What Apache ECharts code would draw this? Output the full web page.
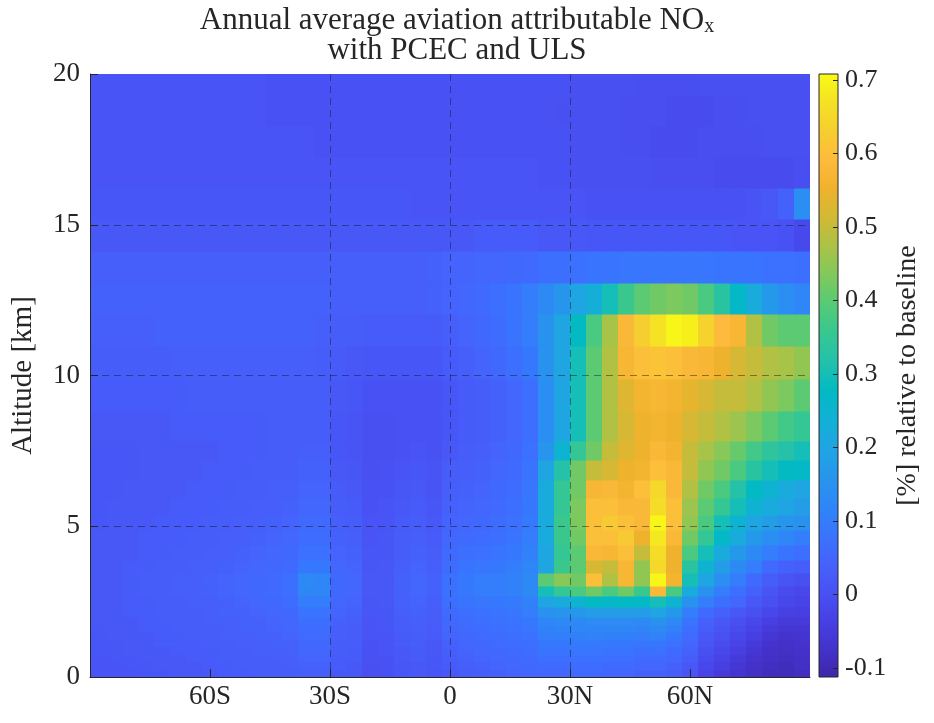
<!DOCTYPE html>
<html><head><meta charset="utf-8">
<script src="https://cdn.jsdelivr.net/npm/echarts@6/dist/echarts.min.js"></script>
<style>html,body{margin:0;padding:0;background:#fff}#c{width:934px;height:723px}</style>
</head><body><div id="c"></div>
<script>
// latitude cell centres (4 degree cells)
const latCenters = [-88,-84,-80,-76,-72,-68,-64,-60,-56,-52,-48,-44,-40,-36,-32,-28,-24,-20,-16,-12,-8,-4,0,4,8,12,16,20,
                    24,28,32,36,40,44,48,52,56,60,64,68,72,76,80,84,88];
const latHalfWidth = 2;
// altitude layer edges [km]
const altEdges = [0,0.25,0.5,0.75,1,1.25,1.5,1.75,2,2.35,2.7,3.05,3.45,3.9,4.4,4.9,5.4,5.95,6.55,7.2,7.85,8.85,9.9,11,12.05,13.1,14.15,15.2,16.25,17.25,18.3,19.3,20.3];

// NOx change [%], rows = altitude layers (bottom to top); latitudes 88S..20N
const noxSouth = [
 [0.01,0.01,0.01,0.015,0.015,0.02,0.02,0.02, 0.025,0.025,0.03,0.03,0.03, 0.035,0.035, 0.02,0.02, 0.0,0.005, 0.015,0.02,0.01, 0.02,0.03,0.035,0.04,0.045,0.05],
 [0.01,0.01,0.015,0.015,0.02,0.02,0.02,0.025, 0.025,0.03,0.03,0.03,0.035, 0.04,0.04, 0.025,0.02, 0.0,0.005, 0.015,0.02,0.015, 0.025,0.035,0.04,0.045,0.05,0.055],
 [0.01,0.015,0.015,0.02,0.02,0.02,0.025,0.025, 0.03,0.03,0.03,0.035,0.035, 0.045,0.045, 0.025,0.025, 0.005,0.005, 0.02,0.025,0.015, 0.03,0.04,0.045,0.05,0.055,0.06],
 [0.015,0.015,0.02,0.02,0.02,0.025,0.025,0.025, 0.03,0.03,0.035,0.035,0.04, 0.05,0.05, 0.03,0.025, 0.005,0.01, 0.02,0.025,0.02, 0.035,0.045,0.05,0.055,0.06,0.065],
 [0.015,0.015,0.02,0.02,0.025,0.025,0.025,0.03, 0.03,0.035,0.035,0.04,0.04, 0.055,0.055, 0.03,0.03, 0.005,0.01, 0.025,0.03,0.02, 0.04,0.05,0.055,0.06,0.065,0.07],
 [0.015,0.02,0.02,0.02,0.025,0.025,0.03,0.03, 0.035,0.035,0.04,0.04,0.045, 0.06,0.06, 0.035,0.03, 0.01,0.01, 0.025,0.03,0.025, 0.045,0.055,0.06,0.065,0.07,0.075],
 [0.015,0.02,0.02,0.025,0.025,0.03,0.03,0.03, 0.035,0.04,0.04,0.045,0.05, 0.065,0.065, 0.035,0.03, 0.01,0.015, 0.03,0.035,0.025, 0.05,0.06,0.065,0.07,0.075,0.085],
 [0.02,0.02,0.02,0.025,0.025,0.03,0.03,0.035, 0.035,0.04,0.04,0.045,0.05, 0.07,0.07, 0.04,0.035, 0.01,0.015, 0.03,0.035,0.03, 0.055,0.065,0.07,0.075,0.08,0.09],
 [0.02,0.02,0.025,0.025,0.03,0.03,0.03,0.035, 0.04,0.04,0.045,0.05,0.055, 0.08,0.08, 0.045,0.04, 0.015,0.015, 0.035,0.04,0.03, 0.06,0.07,0.075,0.08,0.085,0.1],
 [0.02,0.02,0.025,0.025,0.03,0.03,0.035,0.035, 0.04,0.045,0.05,0.055,0.065, 0.1,0.1, 0.05,0.045, 0.015,0.02, 0.04,0.045,0.035, 0.07,0.08,0.085,0.09,0.095,0.11],
 [0.02,0.02,0.025,0.03,0.03,0.035,0.035,0.04, 0.045,0.05,0.055,0.06,0.07, 0.12,0.12, 0.055,0.05, 0.02,0.02, 0.04,0.05,0.04, 0.075,0.09,0.1,0.1,0.11,0.13],
 [0.02,0.02,0.025,0.03,0.03,0.035,0.035,0.04, 0.045,0.05,0.055,0.06,0.07, 0.13,0.12, 0.055,0.05, 0.02,0.02, 0.04,0.05,0.04, 0.075,0.09,0.1,0.1,0.11,0.13],
 [0.02,0.02,0.025,0.025,0.03,0.03,0.035,0.035, 0.04,0.045,0.05,0.055,0.06, 0.09,0.09, 0.05,0.045, 0.015,0.02, 0.035,0.045,0.035, 0.065,0.08,0.085,0.09,0.1,0.12],
 [0.02,0.02,0.02,0.025,0.025,0.03,0.03,0.035, 0.035,0.04,0.045,0.05,0.055, 0.075,0.075, 0.045,0.04, 0.015,0.015, 0.03,0.04,0.03, 0.06,0.07,0.075,0.08,0.09,0.11],
 [0.02,0.02,0.02,0.025,0.025,0.025,0.03,0.03, 0.035,0.035,0.04,0.045,0.05, 0.065,0.065, 0.04,0.035, 0.01,0.015, 0.03,0.035,0.025, 0.05,0.06,0.065,0.07,0.08,0.1],
 [0.015,0.02,0.02,0.02,0.025,0.025,0.025,0.03, 0.03,0.035,0.035,0.04,0.045, 0.06,0.06, 0.035,0.03, 0.01,0.01, 0.025,0.03,0.02, 0.045,0.05,0.055,0.065,0.075,0.095],
 [0.015,0.02,0.02,0.02,0.02,0.025,0.025,0.025, 0.03,0.03,0.035,0.035,0.04, 0.05,0.05, 0.03,0.025, 0.005,0.01, 0.02,0.025,0.015, 0.04,0.045,0.05,0.06,0.07,0.09],
 [0.015,0.015,0.02,0.02,0.02,0.02,0.025,0.025, 0.025,0.03,0.03,0.035,0.035, 0.045,0.045, 0.025,0.02, 0.005,0.005, 0.015,0.02,0.01, 0.035,0.04,0.045,0.055,0.065,0.085],
 [0.015,0.015,0.015,0.02,0.02,0.02,0.02,0.025, 0.025,0.025,0.03,0.03,0.03, 0.04,0.04, 0.02,0.015, 0.0,0.005, 0.01,0.015,0.01, 0.03,0.035,0.04,0.05,0.06,0.08],
 [0.015,0.015,0.015,0.02,0.02,0.02,0.02,0.02, 0.025,0.025,0.025,0.03,0.03, 0.035,0.035, 0.015,0.01, 0.0,0.0, 0.005,0.01,0.005, 0.02,0.03,0.035,0.045,0.055,0.075],
 [0.02,0.02,0.02,0.02,0.02,0.025,0.025,0.025, 0.025,0.025,0.025,0.03,0.03, 0.03,0.03, 0.015,0.01, 0.0,0.0, 0.005,0.005,0.005, 0.015,0.025,0.03,0.04,0.05,0.07],
 [0.025,0.025,0.025,0.025,0.025,0.025,0.03,0.03, 0.03,0.03,0.03,0.03,0.03, 0.03,0.03, 0.02,0.015, 0.005,0.005, 0.005,0.005,0.005, 0.015,0.025,0.03,0.04,0.05,0.07],
 [0.03,0.03,0.03,0.03,0.03,0.035,0.035,0.035, 0.035,0.035,0.035,0.035,0.035, 0.035,0.03, 0.025,0.02, 0.015,0.015, 0.015,0.015,0.015, 0.025,0.035,0.045,0.055,0.07,0.09],
 [0.035,0.035,0.035,0.035,0.04,0.04,0.04,0.04, 0.04,0.04,0.04,0.04,0.04, 0.04,0.035, 0.03,0.03, 0.025,0.025, 0.025,0.025,0.025, 0.035,0.045,0.055,0.065,0.08,0.1],
 [0.04,0.04,0.04,0.04,0.04,0.04,0.04,0.04, 0.04,0.04,0.04,0.04,0.04, 0.04,0.04, 0.035,0.035, 0.035,0.035, 0.035,0.035,0.04, 0.045,0.05,0.06,0.07,0.08,0.1],
 [0.035,0.035,0.035,0.035,0.035,0.035,0.035,0.035, 0.035,0.035,0.035,0.035,0.035, 0.035,0.035, 0.035,0.035, 0.035,0.035, 0.035,0.035,0.04, 0.045,0.045,0.05,0.05,0.055,0.06],
 [0.02,0.02,0.02,0.02,0.02,0.02,0.02,0.02, 0.02,0.02,0.02,0.02,0.02, 0.02,0.02, 0.02,0.02, 0.02,0.02, 0.02,0.02,0.02, 0.02,0.02,0.025,0.025,0.025,0.025],
 [0.015,0.015,0.015,0.015,0.015,0.015,0.015,0.015, 0.015,0.015,0.015,0.015,0.015, 0.015,0.015, 0.015,0.015, 0.015,0.015, 0.015,0.01,0.01, 0.01,0.01,0.01,0.01,0.01,0.01],
 [0.01,0.01,0.01,0.01,0.01,0.01,0.01,0.01, 0.01,0.01,0.01,0.01,0.01, 0.01,0.01, 0.01,0.01, 0.01,0.01, 0.01,0.01,0.01, 0.01,0.01,0.01,0.01,0.01,0.01],
 [0.01,0.01,0.01,0.01,0.01,0.01,0.01,0.01, 0.01,0.01,0.01,0.01,0.01, 0.01,0.005, 0.005,0.005, 0.005,0.005, 0.005,0.005,0.005, 0.005,0.005,0.005,0.005,0.005,0.005],
 [0.01,0.01,0.01,0.01,0.01,0.01,0.01,0.01, 0.01,0.01,0.01,0.005,0.005, 0.005,0.005, 0.005,0.005, 0.005,0.005, 0.005,0.005,0.005, 0.005,0.005,0.005,0.005,0.005,0.005],
 [0.01,0.01,0.01,0.01,0.01,0.01,0.01,0.01, 0.01,0.01,0.01,0.005,0.005, 0.005,0.005, 0.005,0.005, 0.005,0.005, 0.005,0.005,0.005, 0.005,0.005,0.005,0.005,0.005,0.005]
];
// latitudes 24N..88N
const noxNorth = [
 [0.05,0.05,0.06,0.06,0.05,0.05,0.04,0.04,0.03,0.01,-0.03,-0.05,-0.065,-0.08,-0.09,-0.09,-0.085],
 [0.06,0.06,0.065,0.065,0.06,0.06,0.05,0.05,0.04,0.02,-0.02,-0.04,-0.06,-0.075,-0.085,-0.09,-0.08],
 [0.07,0.07,0.075,0.075,0.07,0.07,0.06,0.06,0.05,0.03,-0.01,-0.03,-0.05,-0.07,-0.08,-0.085,-0.08],
 [0.08,0.08,0.085,0.085,0.08,0.08,0.07,0.075,0.06,0.04,0.0,-0.02,-0.04,-0.06,-0.075,-0.08,-0.075],
 [0.09,0.09,0.095,0.095,0.09,0.09,0.085,0.09,0.075,0.05,0.01,-0.01,-0.03,-0.05,-0.07,-0.075,-0.07],
 [0.1,0.105,0.105,0.11,0.105,0.105,0.1,0.11,0.09,0.06,0.02,0.0,-0.02,-0.04,-0.06,-0.07,-0.065],
 [0.11,0.115,0.12,0.12,0.12,0.12,0.115,0.13,0.11,0.07,0.03,0.01,-0.01,-0.03,-0.05,-0.06,-0.06],
 [0.12,0.13,0.13,0.135,0.135,0.135,0.13,0.15,0.13,0.08,0.04,0.02,0.0,-0.02,-0.04,-0.05,-0.05],
 [0.15,0.16,0.17,0.18,0.18,0.18,0.18,0.2,0.17,0.1,0.06,0.04,0.02,0.0,-0.02,-0.035,-0.04],
 [0.2,0.22,0.25,0.28,0.27,0.28,0.27,0.3,0.25,0.15,0.1,0.07,0.05,0.02,0.0,-0.02,-0.03],
 [0.3,0.35,0.38,0.42,0.38,0.42,0.36,0.58,0.38,0.22,0.15,0.1,0.07,0.04,0.01,-0.01,-0.02],
 [0.4,0.44,0.42,0.6,0.48,0.57,0.45,0.7,0.56,0.3,0.2,0.14,0.1,0.06,0.03,0.01,0.0],
 [0.2,0.36,0.4,0.52,0.5,0.57,0.45,0.65,0.55,0.33,0.25,0.18,0.13,0.1,0.06,0.04,0.03],
 [0.2,0.35,0.4,0.58,0.57,0.6,0.5,0.66,0.55,0.38,0.3,0.22,0.17,0.13,0.1,0.08,0.07],
 [0.22,0.36,0.42,0.6,0.6,0.62,0.55,0.68,0.58,0.42,0.35,0.27,0.22,0.17,0.14,0.12,0.1],
 [0.22,0.36,0.43,0.6,0.62,0.6,0.58,0.7,0.6,0.45,0.38,0.3,0.25,0.2,0.18,0.16,0.15],
 [0.22,0.35,0.43,0.6,0.6,0.58,0.58,0.66,0.6,0.46,0.4,0.35,0.3,0.25,0.22,0.2,0.18],
 [0.22,0.35,0.42,0.57,0.58,0.56,0.6,0.65,0.58,0.48,0.42,0.38,0.32,0.28,0.25,0.22,0.2],
 [0.2,0.32,0.42,0.5,0.52,0.55,0.56,0.6,0.58,0.5,0.45,0.42,0.38,0.33,0.3,0.28,0.27],
 [0.16,0.25,0.35,0.42,0.5,0.53,0.55,0.58,0.56,0.5,0.47,0.44,0.41,0.37,0.34,0.32,0.3],
 [0.14,0.2,0.3,0.4,0.48,0.52,0.55,0.56,0.55,0.52,0.5,0.48,0.46,0.43,0.4,0.37,0.35],
 [0.14,0.2,0.3,0.4,0.48,0.53,0.56,0.57,0.56,0.54,0.52,0.5,0.5,0.48,0.45,0.43,0.4],
 [0.15,0.2,0.3,0.4,0.48,0.57,0.6,0.61,0.6,0.58,0.57,0.55,0.52,0.5,0.48,0.47,0.45],
 [0.15,0.2,0.28,0.38,0.47,0.58,0.63,0.67,0.7,0.69,0.64,0.59,0.57,0.48,0.42,0.4,0.4],
 [0.13,0.16,0.2,0.23,0.3,0.36,0.4,0.42,0.43,0.42,0.38,0.33,0.27,0.22,0.17,0.14,0.12],
 [0.07,0.07,0.075,0.08,0.08,0.085,0.085,0.085,0.085,0.085,0.085,0.08,0.08,0.08,0.075,0.075,0.07],
 [0.02,0.02,0.02,0.015,0.015,0.015,0.015,0.015,0.015,0.015,0.015,0.015,0.01,0.01,0.01,0.005,-0.015],
 [0.01,0.01,0.01,0.005,0.005,0.005,0.005,0.005,0.005,0.005,0.005,0.005,0.005,0.01,0.02,0.04,0.14],
 [0.005,0.005,0.0,0.0,0.0,0.0,0.0,-0.005,-0.005,-0.005,-0.005,-0.01,-0.01,-0.01,-0.01,-0.01,-0.005],
 [0.005,0.005,0.0,0.0,0.0,-0.005,-0.005,-0.01,-0.01,-0.01,-0.005,-0.005,-0.005,-0.005,0.0,0.0,0.0],
 [0.005,0.0,0.0,0.0,0.0,-0.005,-0.005,-0.005,-0.01,-0.01,-0.01,-0.005,-0.005,0.0,0.0,0.0,0.0],
 [0.005,0.005,0.0,0.0,0.0,0.0,-0.005,-0.005,-0.005,-0.005,0.0,0.0,0.0,0.0,0.0,0.0,0.0]
];

const xTickValues = [-60,-30,0,30,60];
const xTickLabels = ['60S','30S','0','30N','60N'];
const yTickValues = [0,5,10,15,20];
const cbarTickValues = [-0.1,0,0.1,0.2,0.3,0.4,0.5,0.6,0.7];
const cbarTickLabels = ['-0.1','0','0.1','0.2','0.3','0.4','0.5','0.6','0.7'];
const cbarMin = -0.112, cbarMax = 0.708;
const parula = ['#3e26a8','#4432cb','#4741e5','#4852f4','#4563fd','#3875fe','#2e87f7','#2796eb','#20a5e3','#12b1d6','#02bac3','#24c1ab','#37c790','#57ca75','#81c95c','#abc246','#d1b935','#f0b22d','#feba3d','#f5ce2f','#f5e125','#f9fb15'];

const cells = [];
for (let k = 0; k < altEdges.length - 1; k++) {
  const row = noxSouth[k].concat(noxNorth[k]);
  for (let i = 0; i < latCenters.length; i++) {
    cells.push([latCenters[i] - latHalfWidth, latCenters[i] + latHalfWidth, altEdges[k], altEdges[k + 1], row[i]]);
  }
}

const FONT = 'Liberation Serif';
const INK = '#262626';
const chart = echarts.init(document.getElementById('c'), null, {renderer: 'canvas'});

chart.setOption({
  animation: false,
  backgroundColor: '#ffffff',
  title: {
    text: '{t|Annual average aviation attributable NO}{s|x}\n{t|with PCEC and ULS}',
    left: 452, top: 1, textAlign: 'center',
    textStyle: {
      fontWeight: 'normal',
      rich: {
        t: {fontFamily: FONT, fontSize: 31, fontWeight: 'normal', lineHeight: 30, color: INK},
        s: {fontFamily: FONT, fontSize: 20, fontWeight: 'normal', lineHeight: 30, color: INK, padding: [12, 0, 0, 0]}
      }
    }
  },
  grid: [
    {left: 90, top: 74, width: 720, height: 603, outerBoundsMode: 'none'},
    {left: 819, top: 74, width: 19, height: 603, outerBoundsMode: 'none'}
  ],
  visualMap: {
    type: 'continuous', show: false, seriesIndex: 0, dimension: 4,
    min: cbarMin, max: cbarMax, inRange: {color: parula}
  },
  xAxis: [
    {
      type: 'value', gridIndex: 0, min: -90, max: 90, interval: 30, z: 10,
      axisLine: {show: true, onZero: false, lineStyle: {color: INK, width: 1}},
      axisTick: {show: true, inside: true, length: 8, customValues: xTickValues, lineStyle: {color: INK}},
      axisLabel: {
        customValues: xTickValues, margin: 6,
        fontFamily: FONT, fontSize: 27, color: INK,
        formatter: v => { const j = xTickValues.indexOf(v); return j >= 0 ? xTickLabels[j] : ''; }
      },
      splitLine: {show: true, showMinLine: false, showMaxLine: false, lineStyle: {color: 'rgba(20,20,20,0.45)', type: [7, 5], width: 1}}
    },
    {type: 'value', gridIndex: 1, min: 0, max: 1, show: false}
  ],
  yAxis: [
    {
      type: 'value', gridIndex: 0, min: 0, max: 20, interval: 5, z: 10,
      name: 'Altitude [km]', nameLocation: 'middle', nameGap: 52, nameRotate: 90,
      nameTextStyle: {fontFamily: FONT, fontSize: 29, color: INK},
      axisLine: {show: true, onZero: false, lineStyle: {color: INK, width: 1}},
      axisTick: {show: true, inside: true, length: 8, lineStyle: {color: INK}},
      axisLabel: {fontFamily: FONT, fontSize: 27, color: INK, margin: 10},
      splitLine: {show: true, showMinLine: false, showMaxLine: false, lineStyle: {color: 'rgba(20,20,20,0.45)', type: [7, 5], width: 1}}
    },
    {
      type: 'value', gridIndex: 1, position: 'right', min: cbarMin, max: cbarMax, z: 10,
      name: '[%] relative to baseline', nameLocation: 'middle', nameGap: 56, nameRotate: 90,
      nameTextStyle: {fontFamily: FONT, fontSize: 28, color: INK},
      axisLine: {show: false, onZero: false},
      axisTick: {show: true, inside: true, length: 5, customValues: cbarTickValues, lineStyle: {color: INK}},
      axisLabel: {
        customValues: cbarTickValues, margin: 7, fontFamily: FONT, fontSize: 26, color: INK,
        formatter: v => { const j = cbarTickValues.findIndex(t => Math.abs(t - v) < 1e-9); return j >= 0 ? cbarTickLabels[j] : ''; }
      },
      splitLine: {show: false}
    }
  ],
  series: [
    {
      type: 'custom', xAxisIndex: 0, yAxisIndex: 0, z: 2,
      encode: {x: [0, 1], y: [2, 3]},
      data: cells,
      renderItem: function (params, api) {
        const p0 = api.coord([api.value(0), api.value(2)]);
        const p1 = api.coord([api.value(1), api.value(3)]);
        const rect = echarts.graphic.clipRectByRect({
          x: Math.floor(p0[0]), y: Math.floor(p1[1]),
          width: Math.ceil(p1[0]) - Math.floor(p0[0]) + 0.5,
          height: Math.ceil(p0[1]) - Math.floor(p1[1]) + 0.5
        }, {x: params.coordSys.x, y: params.coordSys.y, width: params.coordSys.width, height: params.coordSys.height});
        if (!rect) return null;
        return {type: 'rect', shape: rect, style: {fill: api.visual('color')}};
      }
    },
    {
      type: 'custom', xAxisIndex: 1, yAxisIndex: 1, z: 2,
      data: [[0, 1, cbarMin, cbarMax]],
      renderItem: function (params, api) {
        const p0 = api.coord([api.value(0), api.value(2)]);
        const p1 = api.coord([api.value(1), api.value(3)]);
        const stops = parula.map((c, j) => ({offset: j / (parula.length - 1), color: c}));
        return {
          type: 'rect',
          shape: {x: p0[0], y: p1[1], width: p1[0] - p0[0], height: p0[1] - p1[1]},
          style: {fill: new echarts.graphic.LinearGradient(0, 1, 0, 0, stops), stroke: INK, lineWidth: 1}
        };
      }
    }
  ]
});
</script>
</body></html>
